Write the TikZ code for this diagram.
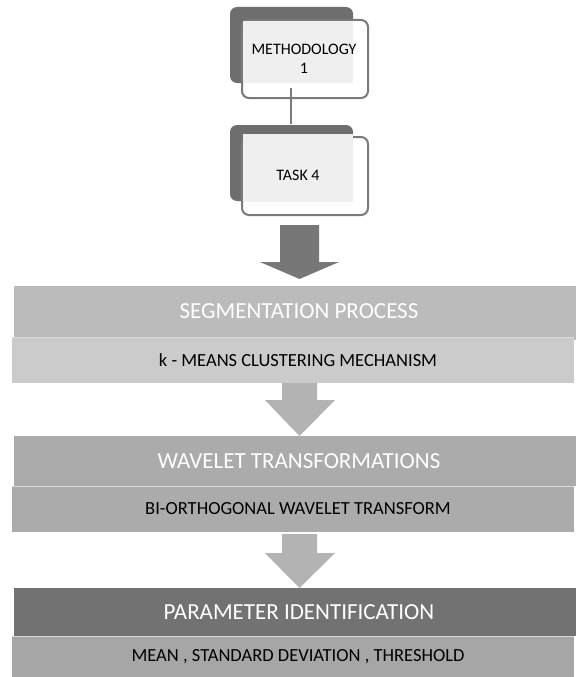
\documentclass[tikz,border=0pt]{standalone}
\usepackage{fontspec}
\setmainfont{Carlito}
\usetikzlibrary{calc}
\definecolor{shadowgray}{HTML}{6E6E6E}
\definecolor{bordergray}{HTML}{7A7A7A}
\definecolor{innergray}{HTML}{EFEFEF}
\definecolor{segHead}{HTML}{BBBBBB}
\definecolor{segSub}{HTML}{CBCBCB}
\definecolor{wavHead}{HTML}{ABABAB}
\definecolor{wavSub}{HTML}{ABABAB}
\definecolor{parHead}{HTML}{727272}
\definecolor{parSub}{HTML}{A6A6A6}
\definecolor{darkArrow}{HTML}{777777}
\definecolor{lightArrow}{HTML}{B3B3B3}
\tikzset{
  shadowbox/.style={fill=shadowgray, rounded corners=7pt, minimum width=123pt, minimum height=76pt, inner sep=0pt},
  frontbox/.style={fill=white, draw=bordergray, line width=2pt, rounded corners=7pt, minimum width=126pt, minimum height=78pt, inner sep=0pt},
  boxtext/.style={font=\fontsize{16}{19}\selectfont, text=black, align=center},
  headbar/.style={anchor=north west, minimum width=562pt, minimum height=#1, inner sep=0pt, outer sep=0pt},
  headtext/.style={font=\fontsize{23}{27}\selectfont, text=white},
  subtext/.style={font=\fontsize{18.5}{22}\selectfont, text=black},
  linkline/.style={draw=bordergray, line width=2.5pt}
}
\begin{document}
\begin{tikzpicture}[x=1pt,y=-1pt]
\useasboundingbox (0,0) rectangle (576,677);
\fill[white] (0,0) rectangle (576,677);
% box 1
\node[shadowbox] (sh1) at (291.5,45) {};
\node[frontbox] (box1) at (305,59) {};
\fill[innergray] (243,21) rectangle (353,83);
\node[boxtext] (t1) at (304,59) {METHODOLOGY\\1};
% box 2
\node[shadowbox] (sh2) at (291.5,163) {};
\node[frontbox] (box2) at (305,176) {};
\fill[innergray] (243,134) rectangle (353,202);
\node[boxtext] (t2) at (298,175) {TASK 4};
% link
\coordinate (l1) at (291,88);
\coordinate (l2) at (291,124);
\draw[linkline] (l1) -- (l2);
% bars
\node[headbar=54pt, fill=segHead] (seg) at (14,286) {};
\node[headbar=46pt, fill=segSub] (segsub) at (12,337) {};
\draw[white!85!black, line width=0.8pt] (segsub.north west) -- (segsub.north east);
\node[headtext] at ($(seg.center)+(4,-2)$) {SEGMENTATION PROCESS};
\node[subtext] at ($(segsub.center)+(5,0)$) {k - MEANS CLUSTERING MECHANISM};

\node[headbar=50pt, fill=wavHead] (wav) at (14,436) {};
\node[headbar=46pt, fill=wavSub] (wavsub) at (12,486) {};
\draw[white!85!black, line width=1pt] (wavsub.north west) -- (wavsub.north east);
\node[headtext] at ($(wav.center)+(4,0)$) {WAVELET TRANSFORMATIONS};
\node[subtext] at ($(wavsub.center)+(5,0)$) {BI-ORTHOGONAL WAVELET TRANSFORM};

\node[headbar=48pt, fill=parHead] (par) at (14,588) {};
\node[headbar=41pt, fill=parSub] (parsub) at (12,636) {};
\draw[white!85!black, line width=1pt] (parsub.north west) -- (parsub.north east);
\node[headtext] at ($(par.center)+(4,0)$) {PARAMETER IDENTIFICATION};
\node[subtext] at ($(parsub.center)+(5,0)$) {MEAN ,\ STANDARD DEVIATION ,\ THRESHOLD};

% arrows
\fill[darkArrow] (280,225) -- (319,225) -- (319,262) -- (339,262) -- (299.5,279) -- (260,262) -- (280,262) -- cycle;
\fill[lightArrow] (282,383) -- (317,383) -- (317,400) -- (335,400) -- (299.5,436) -- (265,400) -- (282,400) -- cycle;
\fill[lightArrow] (282,534) -- (317,534) -- (317,553) -- (335,553) -- (299.5,588) -- (265,553) -- (282,553) -- cycle;
\end{tikzpicture}
\end{document}
